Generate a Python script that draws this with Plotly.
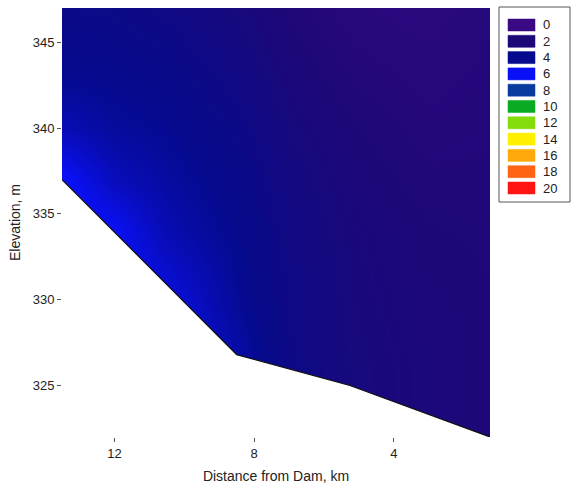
import plotly.graph_objects as go

# ---------------- data ----------------
dist_km = [1.25, 3.0, 5.2, 7.0, 8.5, 10.5, 12.0, 13.5]
elev_m = [322, 326, 330, 334, 337, 340, 343, 347]
values = [
    [2.0, 2.2, 2.6, 3.4, 4.6, 6.0, 6.5, 6.5],   # 322
    [2.0, 2.2, 2.6, 3.4, 4.6, 6.0, 6.5, 6.5],   # 326
    [2.0, 2.1, 2.5, 3.3, 4.2, 5.6, 6.3, 6.5],   # 330
    [1.9, 2.0, 2.4, 3.1, 4.0, 4.7, 6.0, 6.5],   # 334
    [1.8, 1.8, 2.2, 2.9, 3.8, 4.4, 4.9, 6.2],   # 337
    [1.7, 1.6, 2.0, 2.6, 3.5, 4.1, 4.3, 4.8],   # 340
    [1.6, 1.4, 1.7, 2.3, 3.1, 3.8, 4.0, 4.1],   # 343
    [1.5, 1.1, 1.3, 1.9, 2.6, 3.2, 3.5, 3.6],   # 347
]
bed_dist = [13.5, 8.5, 5.26, 1.25]
bed_elev = [337.0, 326.8, 325.0, 322.0]

legend_levels = [0, 2, 4, 6, 8, 10, 12, 14, 16, 18, 20]
legend_colors = ["#3a0a84", "#1e0878", "#060a8c", "#0a10f5", "#0a3ca0",
                 "#0aaa22", "#84dc0a", "#fff000", "#ffaa0a", "#ff6414", "#ff1414"]
x_ticks = [12, 8, 4]
y_ticks = [325, 330, 335, 340, 345]

# ---------------- figure ----------------
W, H = 572, 493
L, T, R, B = 62, 8, 82, 56
PW, PH = W - L - R, H - T - B

zmax = legend_levels[-1]
colorscale = [[lv / zmax, c] for lv, c in zip(legend_levels, legend_colors)]

fig = go.Figure()
fig.add_trace(go.Heatmap(x=dist_km, y=elev_m, z=values, zsmooth="best",
                         colorscale=colorscale, zmin=0, zmax=zmax,
                         showscale=False, hoverinfo="skip"))
# white mask below the river bed
fig.add_trace(go.Scatter(x=bed_dist + [bed_dist[-1], bed_dist[0]],
                         y=bed_elev + [elev_m[0] - 2, elev_m[0] - 2],
                         fill="toself", fillcolor="white", mode="lines",
                         line=dict(width=0, color="white"),
                         showlegend=False, hoverinfo="skip"))
fig.add_trace(go.Scatter(x=bed_dist, y=bed_elev, mode="lines",
                         line=dict(color="#111111", width=1.2),
                         showlegend=False, hoverinfo="skip"))


def pxx(px):
    return (px - L) / PW


def pyy(py):
    return (T + PH - py) / PH


shapes = [dict(type="rect", xref="paper", yref="paper",
               x0=pxx(499), x1=pxx(570), y0=pyy(202), y1=pyy(7),
               line=dict(color="#555555", width=1), fillcolor="white", layer="above")]
annotations = []
for i, (lv, c) in enumerate(zip(legend_levels, legend_colors)):
    top = 19 + 16.3 * i
    shapes.append(dict(type="rect", xref="paper", yref="paper",
                       x0=pxx(508), x1=pxx(535), y0=pyy(top + 12), y1=pyy(top),
                       line=dict(color=c, width=0.5), fillcolor=c, layer="above"))
    annotations.append(dict(xref="paper", yref="paper", x=pxx(541), y=pyy(top + 6),
                            text=str(lv), showarrow=False, xanchor="left",
                            yanchor="middle", font=dict(size=13, color="#222222")))

font_family = "Liberation Sans, Arial, sans-serif"
fig.update_layout(
    width=W, height=H,
    margin=dict(l=L, r=R, t=T, b=B, autoexpand=False),
    paper_bgcolor="white", plot_bgcolor="white",
    font=dict(family=font_family, size=13, color="#222222"),
    shapes=shapes, annotations=annotations, showlegend=False,
    xaxis=dict(range=[13.5, 1.25], tickvals=x_ticks, ticks="outside", ticklen=4,
               tickcolor="#555555", showline=False, showgrid=False, zeroline=False,
               tickfont=dict(size=13),
               title=dict(text="Distance from Dam, km", font=dict(size=14), standoff=11)),
    yaxis=dict(range=[322, 347], tickvals=y_ticks, ticks="outside", ticklen=4,
               tickcolor="#555555", showline=False, showgrid=False, zeroline=False,
               tickfont=dict(size=13),
               title=dict(text="Elevation, m", font=dict(size=14), standoff=8)),
)

fig.write_html("out.html")
